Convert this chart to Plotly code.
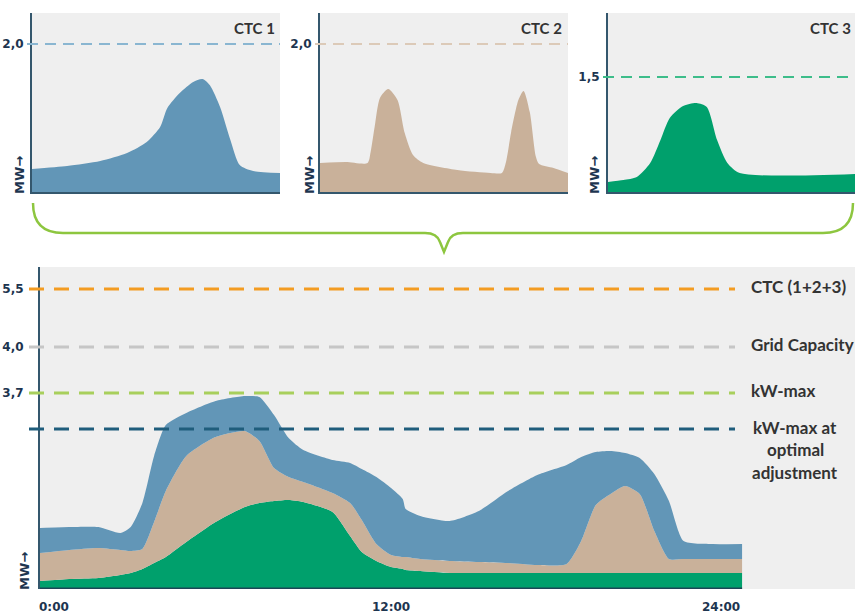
import plotly.graph_objects as go

# ---------------- data (schematic load profiles, heights in chart units) ----------------
# Top panels: individual CTC load profiles over a day (hours)
ctc1_hours = [0, 3.4, 6.6, 9.2, 11.1, 12.4, 13.1, 14.3, 15.6, 16.5, 17.2, 18.2, 19.2, 20.1, 21.4, 24]
ctc1_values = [23, 26, 31, 39, 50, 65, 84, 99, 110, 113, 107, 85, 52, 27, 21, 19]

ctc2_hours = [0, 2.5, 4.6, 4.9, 5.3, 5.8, 6.6, 7.5, 8.2, 9.0, 10.0, 13.3, 16.5, 17.6, 18.0, 18.5, 19.2, 19.7, 20.3, 20.9, 21.2, 22.6, 24]
ctc2_values = [29, 30, 29, 40, 66, 94, 103, 92, 59, 37, 29, 22, 19, 19, 30, 60, 92, 101, 80, 35, 28, 24, 19]

ctc3_hours = [0, 1.5, 2.8, 4.1, 5.1, 6.0, 7.3, 8.6, 9.6, 10.6, 11.6, 12.8, 24]
ctc3_values = [10, 12, 15, 29, 52, 74, 86, 89, 85, 52, 29, 19, 18]

top_limit_ticks = ["2,0", "2,0", "1,5"]
top_limit_values = [148, 148, 115]
top_titles = ["CTC 1", "CTC 2", "CTC 3"]

# Bottom panel: stacked contribution of each CTC
hours = [0, 1, 2, 2.75, 3.1, 3.5, 3.9, 4.3, 5, 6, 7, 7.5, 8, 8.5, 9, 10, 10.6, 11, 11.5, 12,
         12.4, 12.5, 13, 14, 15, 16, 17, 18, 18.5, 19, 19.5, 20, 20.5, 21, 21.5, 22, 23, 24]
ctc3_load = [8, 10, 11, 14, 16, 20, 26, 32, 47, 67, 82, 86, 88, 89, 87, 77, 53, 37, 28, 22,
             20, 19, 18, 16, 16, 16, 16, 16, 16, 16, 16, 16, 16, 16, 16, 16, 16, 16]
ctc2_load = [28, 29, 30, 25, 22, 20, 41, 66, 86, 85, 76, 62, 33, 23, 20, 19, 33, 32, 17, 12,
             12, 13, 12, 12, 11, 10, 8, 9, 32, 68, 79, 87, 79, 42, 14, 14, 14, 14]
ctc1_load = [25, 23, 21, 17, 24, 46, 66, 66, 43, 36, 35, 44, 53, 39, 32, 33, 40, 51, 67, 67,
             58, 48, 43, 40, 51, 72, 90, 99, 84, 53, 43, 33, 36, 57, 58, 18, 15, 15]

threshold_values = [300, 242, 196, 160]
threshold_ticks = ["5,5", "4,0", "3,7"]
threshold_labels = ["CTC (1+2+3)", "Grid Capacity", "kW-max", "kW-max at\noptimal\nadjustment"]

time_tick_values = [0, 12, 24]
time_tick_labels = ["0:00", "12:00", "24:00"]

# ---------------- styling ----------------
W, H = 855, 614
BLUE = "#6296b7"
TAN = "#c9b19a"
GREEN = "#00a06c"
BG = "#efefef"
AX = "#34576d"
NAVY = "#1d3550"
TXT = "#333333"
top_line_colors = ["#8ab6d1", "#dccab8", "#3dbd8a"]
threshold_colors = ["#f39c22", "#c6c6c6", "#a8cf5c", "#1f5d7c"]
LABEL_FONT = "Lato"
NUM_FONT = "DejaVu Sans"


def fx(p):
    return p / W


def fy(p):
    return 1 - p / H


fig = go.Figure()

top_series = [(ctc1_hours, ctc1_values, BLUE), (ctc2_hours, ctc2_values, TAN), (ctc3_hours, ctc3_values, GREEN)]
for i, (hrs, vals, col) in enumerate(top_series):
    fig.add_trace(go.Scatter(
        x=hrs, y=vals, mode="lines", fill="tozeroy", fillcolor=col,
        line=dict(width=0, color=col, shape="spline", smoothing=0.7),
        xaxis="x" if i == 0 else f"x{i+1}", yaxis="y" if i == 0 else f"y{i+1}",
        hoverinfo="skip", showlegend=False))

for vals, col in [(ctc3_load, GREEN), (ctc2_load, TAN), (ctc1_load, BLUE)]:
    fig.add_trace(go.Scatter(
        x=hours, y=vals, mode="lines", stackgroup="one", fillcolor=col,
        line=dict(width=0, color=col, shape="spline", smoothing=0.6),
        xaxis="x4", yaxis="y4", hoverinfo="skip", showlegend=False))

panel_px = [(32, 280), (320, 568), (608, 855)]
layout = dict(
    width=W, height=H, margin=dict(l=0, r=0, t=0, b=0),
    paper_bgcolor="white", plot_bgcolor=BG, showlegend=False,
)
for i, (x0, x1) in enumerate(panel_px):
    xs = "xaxis" if i == 0 else f"xaxis{i+1}"
    ys = "yaxis" if i == 0 else f"yaxis{i+1}"
    xa = "x" if i == 0 else f"x{i+1}"
    ya = "y" if i == 0 else f"y{i+1}"
    layout[xs] = dict(domain=[fx(x0), fx(x1)], range=[0, 24], anchor=ya, showgrid=False, zeroline=False,
                      showticklabels=False, showline=True, linecolor=AX, linewidth=2, fixedrange=True)
    layout[ys] = dict(domain=[fy(192), fy(13)], range=[0, 179], anchor=xa, showgrid=False, zeroline=False,
                      showline=True, linecolor=AX, linewidth=2,
                      tickvals=[top_limit_values[i]], ticktext=[top_limit_ticks[i]],
                      ticks="outside", ticklen=4, tickcolor="rgba(0,0,0,0)",
                      tickfont=dict(family=NUM_FONT, size=12, color=NAVY, weight="bold"), fixedrange=True)

layout["xaxis4"] = dict(domain=[fx(40), 1], range=[0, 27.86], anchor="y4", showgrid=False, zeroline=False,
                        showticklabels=False, showline=False, fixedrange=True)
layout["yaxis4"] = dict(domain=[fy(589), fy(267)], range=[0, 322], anchor="x4", showgrid=False, zeroline=False,
                        showline=True, linecolor=AX, linewidth=2,
                        tickvals=threshold_values[:3], ticktext=threshold_ticks,
                        ticks="outside", ticklen=12, tickcolor="rgba(0,0,0,0)",
                        tickfont=dict(family=NUM_FONT, size=12, color=NAVY, weight="bold"), fixedrange=True)

shapes = []
# top limit dashed lines
for i, (x0, x1) in enumerate(panel_px):
    ya = "y" if i == 0 else f"y{i+1}"
    shapes.append(dict(type="line", xref="paper", yref=ya, x0=fx(x0 - 5), x1=fx(x1), y0=top_limit_values[i],
                       y1=top_limit_values[i], line=dict(color=top_line_colors[i], width=2, dash="11px,7px")))
# bottom threshold lines
for v, c in zip(threshold_values, threshold_colors):
    shapes.append(dict(type="line", xref="paper", yref="y4", x0=fx(29), x1=fx(735), y0=v, y1=v,
                       line=dict(color=c, width=3, dash="15px,10px")))
# bottom x axis line (only under the data)
shapes.append(dict(type="line", xref="x4", yref="y4", x0=0, x1=24, y0=0, y1=0, line=dict(color="#1d4556", width=3)))
# brace
pts = [("M", 33, 203), ("Q", 33, 233, 63, 233), ("L", 425, 233), ("Q", 437, 233, 440, 242), ("L", 444, 252),
       ("L", 448, 242), ("Q", 451, 233, 463, 233), ("L", 823, 233), ("Q", 853, 233, 853, 203)]
path = ""
for p in pts:
    cmd = p[0]
    coords = p[1:]
    seg = " ".join(f"{fx(coords[k]):.5f},{fy(coords[k+1]):.5f}" for k in range(0, len(coords), 2))
    path += f"{cmd} {seg} "
shapes.append(dict(type="path", xref="paper", yref="paper", path=path.strip(),
                   line=dict(color="#8dc63f", width=2.5)))
layout["shapes"] = shapes

ann = []
title_right = [277, 564, 853]
for t, xr in zip(top_titles, title_right):
    ann.append(dict(text=t, xref="paper", yref="paper", x=fx(xr), y=fy(28), xanchor="right", yanchor="middle",
                    showarrow=False, font=dict(family=LABEL_FONT, size=15, color=TXT, weight="bold")))
# MW labels
for (mx, my) in [(19, 175), (309, 175), (594, 175), (24, 571)]:
    ann.append(dict(text="MW→", xref="paper", yref="paper", x=fx(mx), y=fy(my), xanchor="center", yanchor="middle",
                    textangle=-90, showarrow=False, font=dict(family=NUM_FONT, size=13, color=NAVY, weight="bold")))
# threshold labels
for v, lab in zip(threshold_values, threshold_labels):
    lines = lab.split("\n")
    if len(lines) == 1:
        ann.append(dict(text=lab, xref="paper", yref="y4", x=fx(749), y=v + 3, xanchor="left", yanchor="middle",
                        showarrow=False, font=dict(family=LABEL_FONT, size=17, color=TXT, weight="bold")))
    else:
        for k, ln in enumerate(lines):
            ann.append(dict(text=ln, xref="paper", yref="y4", x=fx(795), y=v + 2 - k * 22.5,
                            xanchor="center", yanchor="middle", showarrow=False,
                            font=dict(family=LABEL_FONT, size=17, color=TXT, weight="bold")))
# time ticks
for tv, tl, anc in zip(time_tick_values, time_tick_labels, ["left", "center", "right"]):
    ann.append(dict(text=tl, xref="x4", yref="paper", x=tv, y=fy(607), xanchor=anc, yanchor="middle",
                    xshift=-3 if anc == "left" else 0,
                    showarrow=False, font=dict(family=NUM_FONT, size=12, color=NAVY, weight="bold")))
layout["annotations"] = ann

fig.update_layout(**layout)
fig.write_html("out.html", config={"displayModeBar": False, "staticPlot": True},
               post_script="document.body.style.margin='0';")
